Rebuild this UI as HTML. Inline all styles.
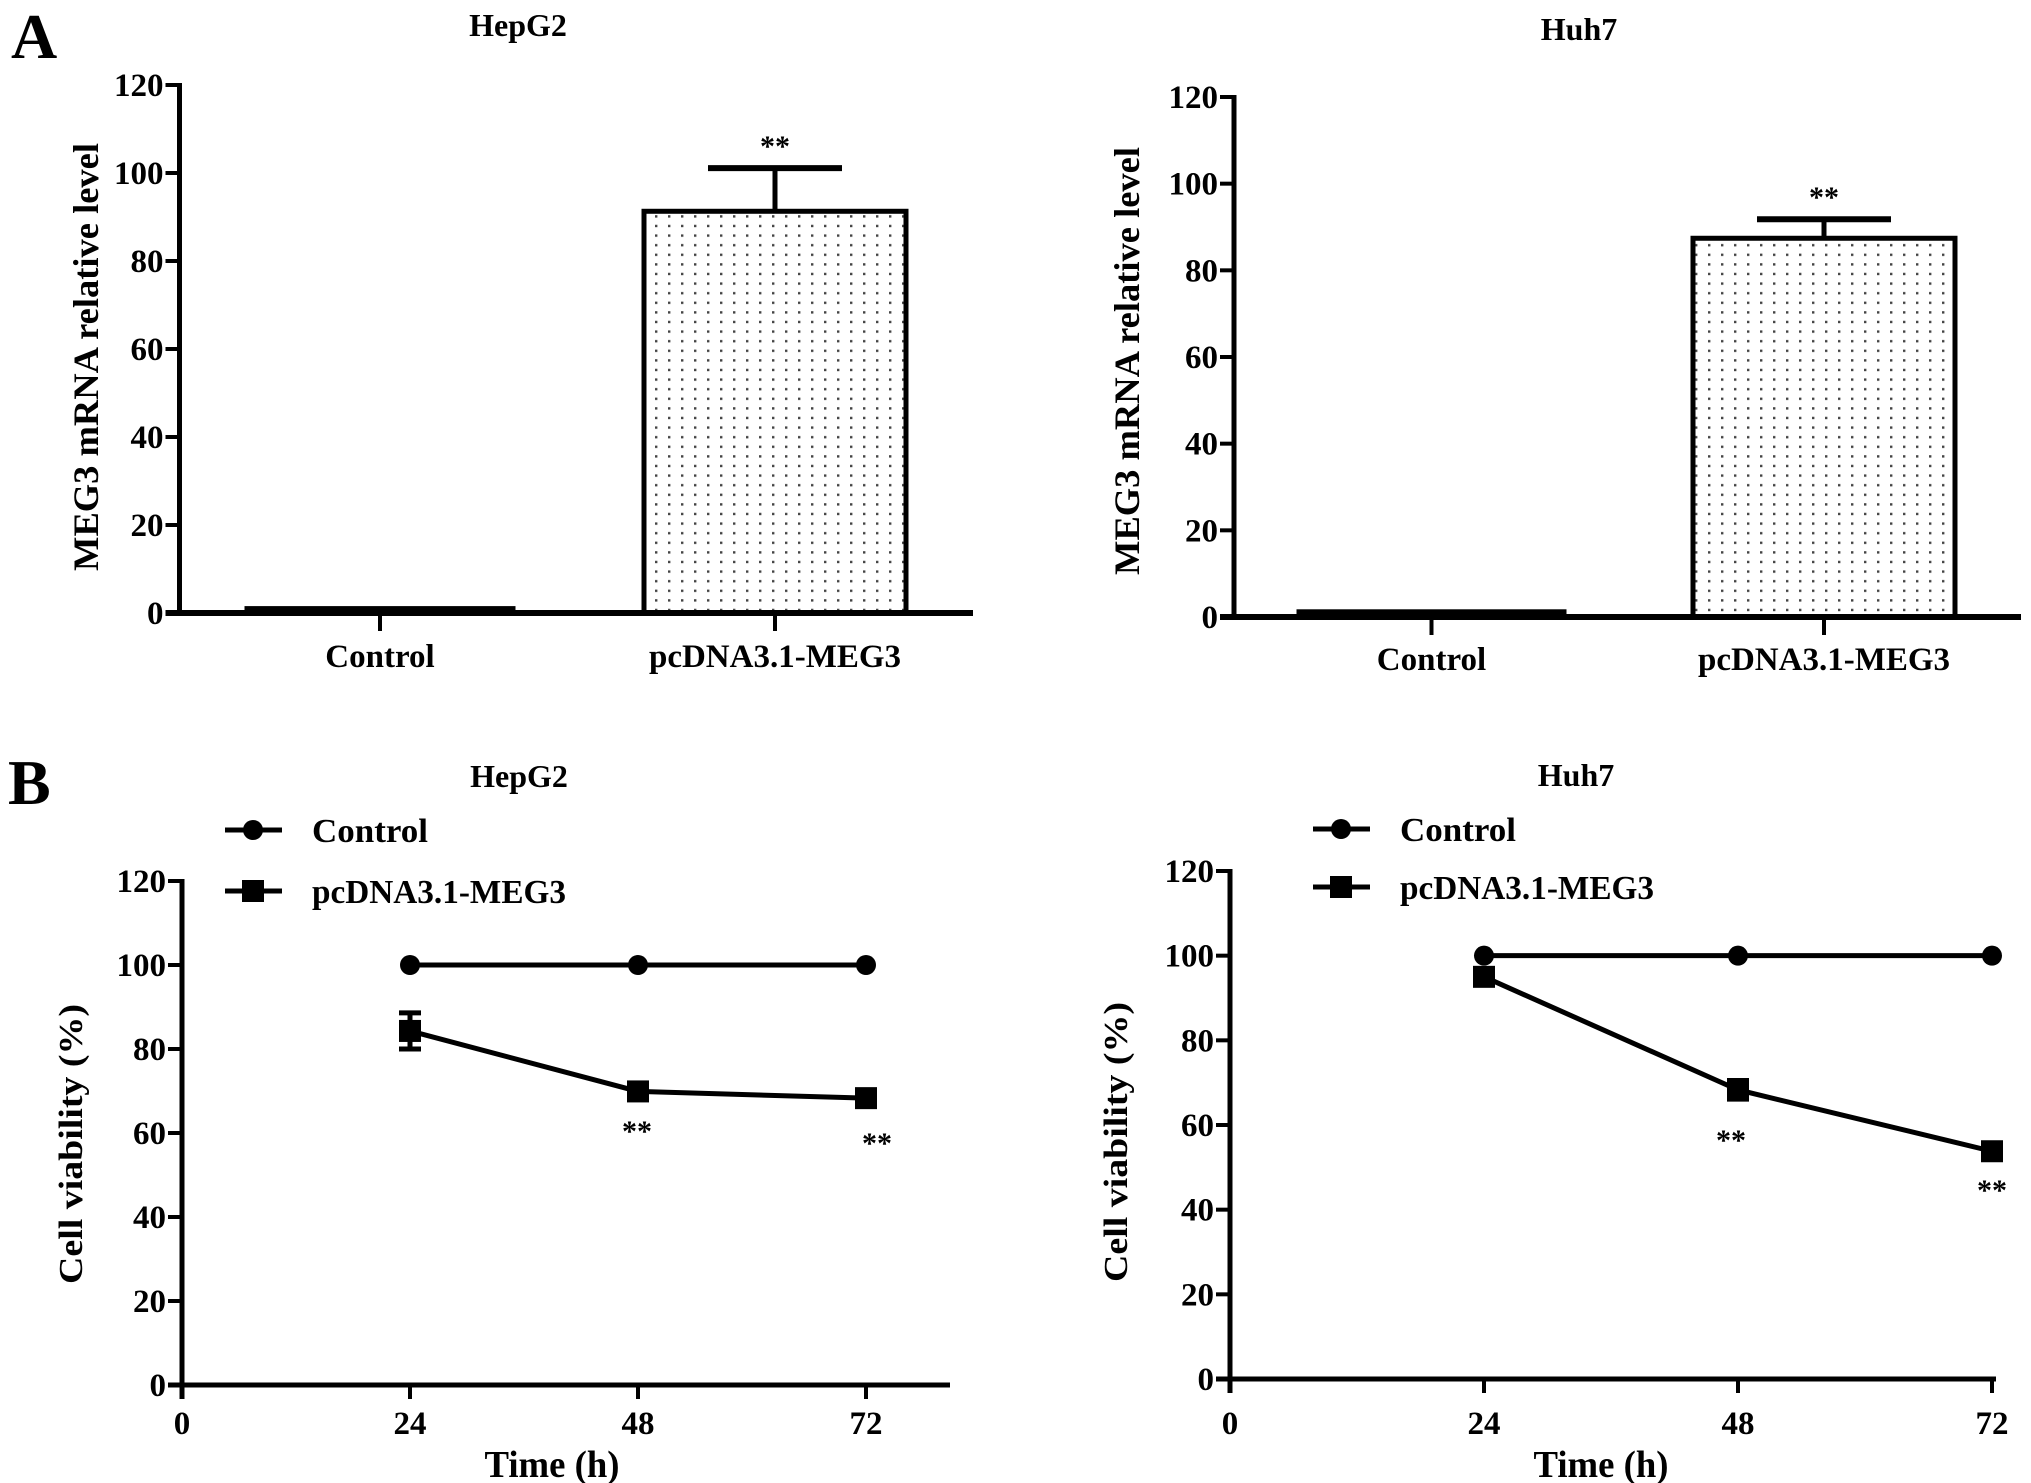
<!DOCTYPE html>
<html><head><meta charset="utf-8"><style>
html,body{margin:0;padding:0;background:#fff;}
svg{display:block;font-family:"Liberation Serif",serif;font-weight:bold;}
</style></head><body>
<svg id="fig" width="2031" height="1483" viewBox="0 0 2031 1483" xmlns="http://www.w3.org/2000/svg">
<defs>
<pattern id="dots" width="13" height="9.6" patternUnits="userSpaceOnUse">
<rect x="5" y="4" width="2.4" height="2.4" fill="#444"/>
</pattern>
</defs>
<text x="11" y="58" font-size="64">A</text>
<text x="8" y="804" font-size="64">B</text>
</svg>
<script>
// Panel A data
const barCategories = ["Control", "pcDNA3.1-MEG3"];
const barHepG2Values = [1, 91.3];
const barHepG2Errors = [0, 9.8];
const barHuh7Values = [1.2, 87.4];
const barHuh7Errors = [0, 4.4];
const barYTicks = [0, 20, 40, 60, 80, 100, 120];
// Panel B data
const timePoints = [24, 48, 72];
const xTickLabels = [0, 24, 48, 72];
const lineYTicks = [0, 20, 40, 60, 80, 100, 120];
const hepControl = [100, 100, 100];
const hepMEG3 = [84.3, 69.9, 68.3];
const hepMEG3Err = [4.3, 0.8, 0.8];
const huhControl = [100, 100, 100];
const huhMEG3 = [95.0, 68.3, 53.8];
const huhMEG3Err = [0.8, 2.2, 0.8];
const seriesNames = ["Control", "pcDNA3.1-MEG3"];

const svg = document.getElementById('fig');
const NS = 'http://www.w3.org/2000/svg';
function mk(tag, attrs, parent) {
  const e = document.createElementNS(NS, tag);
  for (const k in attrs) e.setAttribute(k, attrs[k]);
  (parent || svg).appendChild(e);
  return e;
}
function txt(x, y, s, size, parent, anchor) {
  const t = mk('text', {x: x, y: y, 'font-size': size, 'text-anchor': anchor || 'middle'}, parent);
  t.textContent = s;
  return t;
}

function barPanel(cfg, values, errors) {
  const g = mk('g', {});
  
  
  const y = v => cfg.y0 + (cfg.y120 - cfg.y0) * v / 120;
  const title = txt(cfg.titleX, cfg.titleY, cfg.title, 32, g);
  
  
  const ya = mk('line', {x1: cfg.ax, y1: y(120) - 2, x2: cfg.ax, y2: y(0) + 2, stroke: '#000', 'stroke-width': 5}, g);
  
  
  barYTicks.forEach(v => {
    mk('line', {x1: cfg.ax - 14, y1: y(v), x2: cfg.ax, y2: y(v), stroke: '#000', 'stroke-width': 4}, g);
    const t = txt(cfg.ax - 16, y(v) + 11, String(v), 33, g, 'end');
    
    
  });
  const yl = txt(0, 0, 'MEG3 mRNA relative level', 36, g);
  yl.setAttribute('transform', `translate(${cfg.ylx},${cfg.yly}) rotate(-90)`);
  yl.setAttribute('textLength', 428);
  yl.setAttribute('lengthAdjust', 'spacingAndGlyphs');
  
  
  barCategories.forEach((c, i) => {
    const b = cfg.bars[i];
    const top = y(values[i]);
    const r = mk('rect', {x: b[0], y: top, width: b[1] - b[0], height: y(0) - top, fill: i ? 'url(#dots)' : '#000', stroke: '#000', 'stroke-width': 5}, g);
    
    
    const cx = (b[0] + b[1]) / 2;
    if (errors[i] > 0) {
      const et = y(values[i] + errors[i]);
      mk('line', {x1: cx, y1: top, x2: cx, y2: et, stroke: '#000', 'stroke-width': 5}, g);
      const cap = mk('line', {x1: cx - 67, y1: et, x2: cx + 67, y2: et, stroke: '#000', 'stroke-width': 6}, g);
      
      
      const st = txt(cx, et - 12, '**', 30, g);
      
      
    }
    mk('line', {x1: cx, y1: y(0), x2: cx, y2: y(0) + 18, stroke: '#000', 'stroke-width': 4}, g);
    const cl = txt(cx, cfg.labY, c, 33, g);
    
    
  });
  const xa = mk('line', {x1: cfg.ax - 14, y1: y(0), x2: cfg.xEnd, y2: y(0), stroke: '#000', 'stroke-width': 6}, g);
  
  
}

barPanel({name: 'bar-chart-hepg2', title: 'HepG2', titleX: 518, titleY: 36, ax: 179.5, y0: 613, y120: 85, xEnd: 973,
  bars: [[247, 513], [644, 906]], labY: 667, ylx: 98, yly: 357}, barHepG2Values, barHepG2Errors);
barPanel({name: 'bar-chart-huh7', title: 'Huh7', titleX: 1579, titleY: 40, ax: 1234, y0: 617, y120: 97, xEnd: 2021,
  bars: [[1299, 1564], [1693, 1955]], labY: 670, ylx: 1139, yly: 361}, barHuh7Values, barHuh7Errors);

function linePanel(cfg, ctrl, meg, megErr) {
  const g = mk('g', {});
  
  
  const y = v => cfg.y0 + (cfg.y120 - cfg.y0) * v / 120;
  const x = t => cfg.ax + (cfg.x24 - cfg.ax) * t / 24;
  const title = txt(cfg.titleX, cfg.titleY, cfg.title, 32, g);
  
  
  const ya = mk('line', {x1: cfg.ax, y1: y(120) - 2, x2: cfg.ax, y2: y(0) + 14, stroke: '#000', 'stroke-width': 5}, g);
  
  
  lineYTicks.forEach(v => {
    mk('line', {x1: cfg.ax - 14, y1: y(v), x2: cfg.ax, y2: y(v), stroke: '#000', 'stroke-width': 4}, g);
    const t = txt(cfg.ax - 16, y(v) + 11, String(v), 33, g, 'end');
    
    
  });
  const xa = mk('line', {x1: cfg.ax - 14, y1: y(0), x2: cfg.xEnd, y2: y(0), stroke: '#000', 'stroke-width': 5}, g);
  
  
  xTickLabels.forEach(t => {
    mk('line', {x1: x(t), y1: y(0), x2: x(t), y2: y(0) + 14, stroke: '#000', 'stroke-width': 4}, g);
    const l = txt(x(t), 1434, String(t), 33, g);
    
    
  });
  const xt = txt(cfg.xtX, 1477, 'Time (h)', 38, g);
  xt.setAttribute('textLength', 135);
  xt.setAttribute('lengthAdjust', 'spacingAndGlyphs');
  
  
  const yl = txt(0, 0, 'Cell viability (%)', 34, g);
  yl.setAttribute('transform', `translate(${cfg.ylx},${cfg.yly}) rotate(-90)`);
  yl.setAttribute('textLength', 280);
  yl.setAttribute('lengthAdjust', 'spacingAndGlyphs');
  
  
  const cpts = timePoints.map((t, i) => x(t) + ',' + y(ctrl[i])).join(' ');
  const cl = mk('polyline', {points: cpts, fill: 'none', stroke: '#000', 'stroke-width': 5}, g);
  
  
  timePoints.forEach((t, i) => {
    const c = mk('circle', {cx: x(t), cy: y(ctrl[i]), r: 10, fill: '#000'}, g);
    
    
  });
  const mpts = timePoints.map((t, i) => x(t) + ',' + y(meg[i])).join(' ');
  const ml = mk('polyline', {points: mpts, fill: 'none', stroke: '#000', 'stroke-width': 5}, g);
  
  
  timePoints.forEach((t, i) => {
    const cx = x(t), cy = y(meg[i]);
    const e1 = y(meg[i] + megErr[i]), e2 = y(meg[i] - megErr[i]);
    mk('line', {x1: cx, y1: e1, x2: cx, y2: e2, stroke: '#000', 'stroke-width': 5}, g);
    mk('line', {x1: cx - 11, y1: e1, x2: cx + 11, y2: e1, stroke: '#000', 'stroke-width': 5}, g);
    mk('line', {x1: cx - 11, y1: e2, x2: cx + 11, y2: e2, stroke: '#000', 'stroke-width': 5}, g);
    const s = mk('rect', {x: cx - 11, y: cy - 11, width: 22, height: 22, fill: '#000'}, g);
    
    
  });
  cfg.stars.forEach(st => {
    const s = txt(st[0], st[1], '**', 30, g);
    
    
  });
  const lg = mk('g', {}, g);
  
  
  seriesNames.forEach((n, i) => {
    const ly = cfg.legY[i];
    const e = mk('g', {}, lg);
    
    
    mk('line', {x1: cfg.legX, y1: ly, x2: cfg.legX + 57, y2: ly, stroke: '#000', 'stroke-width': 5}, e);
    if (i === 0) mk('circle', {cx: cfg.legX + 28, cy: ly, r: 10, fill: '#000'}, e);
    else mk('rect', {x: cfg.legX + 17, y: ly - 11, width: 22, height: 22, fill: '#000'}, e);
    const t = txt(cfg.legX + 87, ly + 12, n, 34, e, 'start');
    t.setAttribute('textLength', i === 0 ? 116 : 254);
    t.setAttribute('lengthAdjust', 'spacingAndGlyphs');
  });
}

linePanel({name: 'line-chart-hepg2', title: 'HepG2', titleX: 519, titleY: 787, ax: 182, x24: 410, y0: 1385, y120: 881,
  xEnd: 950, xtX: 552, ylx: 82, yly: 1144, legX: 225, legY: [830, 891],
  stars: [[637, 1141], [877, 1153]]}, hepControl, hepMEG3, hepMEG3Err);
linePanel({name: 'line-chart-huh7', title: 'Huh7', titleX: 1576, titleY: 786, ax: 1230, x24: 1484, y0: 1379, y120: 871,
  xEnd: 1996, xtX: 1601, ylx: 1127, yly: 1142, legX: 1313, legY: [829, 887],
  stars: [[1731, 1150], [1992, 1200]]}, huhControl, huhMEG3, huhMEG3Err);
</script>
</body></html>
